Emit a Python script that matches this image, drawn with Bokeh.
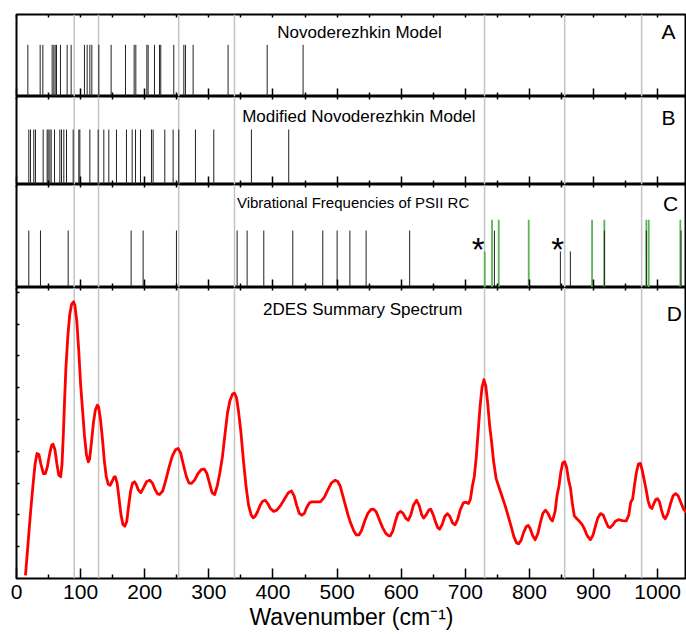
from bokeh.plotting import figure
from bokeh.models import (Range1d, LinearAxis, Span, Label, ColumnDataSource, FixedTicker)
from bokeh.layouts import column
from bokeh.embed import file_html
from bokeh.resources import INLINE
from bokeh.core.properties import value

# ---------------- data ----------------
marker_lines = [90, 128, 253, 340, 730, 855, 975]

x_major_ticks = [0, 100, 200, 300, 400, 500, 600, 700, 800, 900, 1000]
x_minor_ticks = [50, 150, 250, 350, 450, 550, 650, 750, 850, 950, 1050]
d_y_ticks = [1, 2, 3, 4, 5, 6, 7, 8, 9]

novo_freqs = [17.7, 36.9, 41.1, 55.6, 58.2, 60.3, 62.4, 68.6, 79.0, 85.2, 106.0, 110.2,
              114.4, 117.5, 128.4, 147.6, 170.0, 183.5, 186.1, 203.3, 205.3, 215.2,
              223.0, 225.0, 245.3, 261.0, 263.5, 275.5, 330.0, 391.0, 447.0]
novo_height = 0.63

mod_freqs = [19.2, 21.8, 27.0, 29.6, 41.6, 47.8, 49.4, 52.0, 54.1, 59.3, 67.6, 70.2,
             73.8, 78.0, 88.4, 97.2, 98.8, 114.4, 127.4, 136.2, 144.0, 155.9, 171.5,
             180.4, 185.6, 193.4, 210.5, 213.1, 231.3, 244.3, 253.1, 279.1, 307.7,
             366.4, 424.6]
mod_height = 0.625

psii_black = [19.2, 37.4, 80.6, 178.8, 197.5, 249.5, 344.1, 359.7, 385.7, 430.9, 477.7,
              500.1, 520.0, 545.3, 613.2, 745.4, 916.9, 982.4, 1036.5]
psii_black_height = 0.553
psii_green = [741.7, 752.1, 798.9, 897.7, 916.9, 982.4, 986.1, 1035.4]
psii_green_height = 0.657
psii_short_green = [730.3]
psii_short_black = [848.3, 863.9]
psii_short_height = 0.35
star_x = [720.0, 844.0]
star_y = [0.37, 0.37]

wn = [14, 18, 22, 26, 29, 32, 35, 38, 42, 45, 48, 52, 55, 57, 60, 63, 66, 69,
      71, 73, 75, 77, 80, 83, 86, 89, 91, 94, 97, 100, 103, 106, 109, 112, 114, 117,
      120, 123, 126, 128, 131, 134, 137, 140, 143, 146, 149, 152, 154, 157, 160, 163,
      166, 169, 172, 175, 178, 181, 184, 187, 190, 194, 198, 203, 208, 212, 216, 220,
      223, 228, 233, 238, 243, 248, 252, 256, 260, 265, 269, 273, 278, 283, 288, 293,
      297, 301, 305, 309, 313, 317, 321, 325, 329, 333, 337, 340, 343, 346, 350, 354,
      358, 362, 366, 369, 372, 376, 380, 384, 388, 392, 396, 401, 406, 412, 418, 424,
      429, 433, 437, 441, 445, 449, 453, 457, 461, 468, 474, 480, 486, 491, 497, 501,
      505, 509, 513, 517, 521, 526, 530, 534, 538, 543, 548, 553, 557, 561, 566, 571,
      576, 580, 583, 587, 591, 595, 599, 603, 607, 611, 615, 619, 624, 628, 632, 635,
      639, 643, 646, 650, 654, 657, 660, 664, 668, 672, 676, 680, 684, 688, 692, 697,
      701, 705, 708, 711, 714, 717, 720, 723, 726, 729, 732, 735, 738, 741, 744, 748,
      752, 757, 762, 767, 772, 776, 780, 783, 787, 791, 795, 798, 801, 805, 809, 813,
      817, 821, 825, 829, 833, 836, 840, 843, 846, 849, 852, 855, 858, 861, 864, 867,
      870, 874, 878, 882, 886, 890, 895, 899, 903, 907, 911, 915, 919, 923, 926, 930,
      934, 939, 945, 951, 955, 958, 961, 964, 967, 970, 973, 976, 979, 982, 985, 988,
      991, 994, 997, 1000, 1003, 1006, 1009, 1012, 1016, 1020, 1024, 1028, 1032, 1036,
      1040, 1045]
amp = [0.1, 1.1, 2.1, 3.0, 3.6, 3.93, 3.9, 3.6, 3.3, 3.3, 3.5, 3.95, 4.2, 4.22, 4.05,
       3.6, 3.25, 3.2,
       3.6, 4.5, 5.6, 6.6, 7.6, 8.3, 8.62, 8.7, 8.6, 8.1, 7.2, 6.1, 5.3, 4.5, 3.9, 3.67,
       3.75, 4.3,
       4.9, 5.3, 5.45, 5.4, 5.0, 4.4, 3.7, 3.2, 2.97, 2.93, 3.05, 3.18, 3.2, 3.0, 2.5,
       2.0,
       1.7, 1.64, 1.8, 2.3, 2.75, 3.0, 3.04, 2.95, 2.78, 2.7, 2.85, 3.05, 3.09, 3.0,
       2.8, 2.66,
       2.64, 2.75, 3.1, 3.5, 3.85, 4.05, 4.09, 3.95, 3.6, 3.2, 3.0, 2.99, 3.1, 3.3,
       3.42, 3.44,
       3.3, 3.0, 2.7, 2.64, 2.9, 3.3, 3.8, 4.5, 5.2, 5.6, 5.8, 5.83, 5.7, 5.3, 4.6, 3.7,
       2.9, 2.3, 2.0, 1.91, 1.95, 2.1, 2.3, 2.43, 2.46, 2.35, 2.2, 2.11, 2.15, 2.3, 2.5,
       2.7,
       2.75, 2.6, 2.3, 2.05, 1.99, 2.05, 2.25, 2.38, 2.41, 2.41, 2.41, 2.55, 2.8, 3.0,
       3.09, 3.05,
       2.9, 2.6, 2.3, 2.0, 1.75, 1.5, 1.37, 1.37, 1.5, 1.8, 2.05, 2.17, 2.18, 2.1, 1.85,
       1.6,
       1.42, 1.35, 1.34, 1.5, 1.8, 2.05, 2.11, 2.05, 1.9, 1.83, 2.0, 2.3, 2.46, 2.3,
       2.0, 1.9,
       2.0, 2.15, 2.18, 2.0, 1.75, 1.6, 1.55, 1.7, 1.95, 2.04, 1.95, 1.75, 1.69, 1.85,
       2.15, 2.38,
       2.4, 2.36, 2.5, 2.9, 3.2, 3.8, 4.6, 5.4, 6.0, 6.25, 6.05, 5.5, 4.8, 4.3, 3.7,
       3.15,
       2.9, 2.6, 2.3, 1.95, 1.6, 1.3, 1.12, 1.09, 1.2, 1.45, 1.63, 1.67, 1.58, 1.35,
       1.22, 1.4,
       1.75, 2.05, 2.15, 2.05, 1.87, 1.81, 2.1, 2.6, 2.9, 3.35, 3.64, 3.67, 3.5, 3.1,
       2.85, 2.35,
       1.97, 1.88, 1.8, 1.7, 1.55, 1.35, 1.22, 1.35, 1.65, 1.92, 2.04, 2.0, 1.8, 1.62,
       1.6, 1.68,
       1.8, 1.85, 1.82, 1.81, 2.0, 2.4, 2.5, 2.95, 3.35, 3.6, 3.62, 3.4, 3.1, 2.8, 2.45,
       2.25,
       2.2, 2.35, 2.48, 2.51, 2.4, 2.15, 1.95, 1.88, 2.05, 2.35, 2.6, 2.67, 2.6, 2.4,
       2.2, 2.07]

titles = ["Novoderezhkin Model", "Modified Novoderezhkin Model",
          "Vibrational Frequencies of PSII RC", "2DES Summary Spectrum"]
letters = ["A", "B", "C", "D"]
x_title = "Wavenumber (cm\u207b\u00b9)"

FONT = "Liberation Sans"
GREEN = "#5ab552"
x_range = Range1d(0, 1045)


def make_fig(height, top, bottom, y_end):
    p = figure(width=686, height=height, x_range=x_range, y_range=Range1d(0, y_end),
               output_backend="svg", toolbar_location=None,
               x_axis_location=None, y_axis_location=None,
               min_border_left=16, min_border_right=0,
               min_border_top=top, min_border_bottom=bottom)
    p.grid.visible = False
    p.outline_line_color = "black"
    p.outline_line_width = 2
    p.background_fill_color = "white"
    p.border_fill_color = "white"
    for v in marker_lines:
        p.add_layout(Span(location=v, dimension="height", line_color="#c4c4c4",
                          line_width=1.5, level="underlay"))
    return p


def tick_axis(ticks, length):
    # axis without labels: all ticks are given as "minor" ticks
    return LinearAxis(ticker=FixedTicker(ticks=[], minor_ticks=ticks),
                      major_tick_in=0, major_tick_out=0,
                      minor_tick_in=length, minor_tick_out=0,
                      major_label_standoff=0, axis_line_color=None,
                      minor_tick_line_color="black", minor_tick_line_width=1.5)


def add_x_tick_axes(p, bottom=True):
    if bottom:
        p.add_layout(tick_axis(x_major_ticks, 8), "below")
        p.add_layout(tick_axis(x_minor_ticks, 4), "below")
    p.add_layout(tick_axis(x_major_ticks, 3), "above")
    p.add_layout(tick_axis(x_minor_ticks, 3), "above")


def add_sticks(p, freqs, h, color, width=1.0):
    src = ColumnDataSource(dict(x=freqs, y0=[0] * len(freqs), y1=[h] * len(freqs)))
    p.segment(x0="x", y0="y0", x1="x", y1="y1", source=src, line_color=color,
              line_width=width)


def add_texts(p, title, letter, tx, ty, tsize, lx, ly):
    p.add_layout(Label(x=tx, y=ty, text=title, text_font=FONT, text_font_size=tsize,
                       text_align="center", text_baseline="alphabetic",
                       text_color="black"))
    p.add_layout(Label(x=lx, y=ly, text=letter, text_font=FONT, text_font_size="21px",
                       text_align="center", text_baseline="alphabetic",
                       text_color="black"))


# Panel A
pA = make_fig(96, 14, 0, 1)
add_x_tick_axes(pA)
add_sticks(pA, novo_freqs, novo_height, "#222222")
add_texts(pA, titles[0], letters[0], 535, 0.775, "17px", 1017, 0.795)

# Panel B
pB = make_fig(88, 0, 0, 1)
add_x_tick_axes(pB)
add_sticks(pB, mod_freqs, mod_height, "#222222")
add_texts(pB, titles[1], letters[1], 534, 0.77, "17px", 1017, 0.76)

# Panel C
pC = make_fig(103, 0, 0, 1)
add_x_tick_axes(pC)
add_sticks(pC, psii_green, psii_green_height, GREEN, 1.8)
add_sticks(pC, psii_short_green, psii_short_height, GREEN, 1.8)
add_sticks(pC, psii_black, psii_black_height, "#222222")
add_sticks(pC, psii_short_black, psii_short_height, "#222222")
add_texts(pC, titles[2], letters[2], 525, 0.825, "15px", 1020, 0.815)
star_src = ColumnDataSource(dict(x=star_x, y=star_y, t=["*"] * len(star_x)))
pC.text(x="x", y="y", text="t", source=star_src, text_font=value(FONT),
        text_font_size="33px", text_align="center", text_baseline="alphabetic",
        text_color="black")

# Panel D
pD = make_fig(347, 0, 56, 9.15)
bx = LinearAxis(ticker=FixedTicker(ticks=x_major_ticks, minor_ticks=x_minor_ticks),
                major_tick_in=10, major_tick_out=0,
                minor_tick_in=4, minor_tick_out=0, axis_line_color=None,
                major_tick_line_width=1.5, minor_tick_line_width=1.5,
                major_label_text_font=FONT, major_label_text_font_size="21px",
                major_label_text_color="black", major_label_standoff=6,
                axis_label=x_title, axis_label_text_font=FONT,
                axis_label_text_font_size="23px", axis_label_text_font_style="normal",
                axis_label_text_color="black", axis_label_standoff=2)
pD.add_layout(bx, "below")
add_x_tick_axes(pD, bottom=False)
pD.add_layout(tick_axis(d_y_ticks, 3), "left")
pD.line(wn, amp, line_color="red", line_width=2.8, line_join="round")
add_texts(pD, titles[3], letters[3], 540, 8.45, "17px", 1026, 8.33)

layout = column(pA, pB, pC, pD, spacing=0)
open("out.html", "w").write(file_html(layout, INLINE))
